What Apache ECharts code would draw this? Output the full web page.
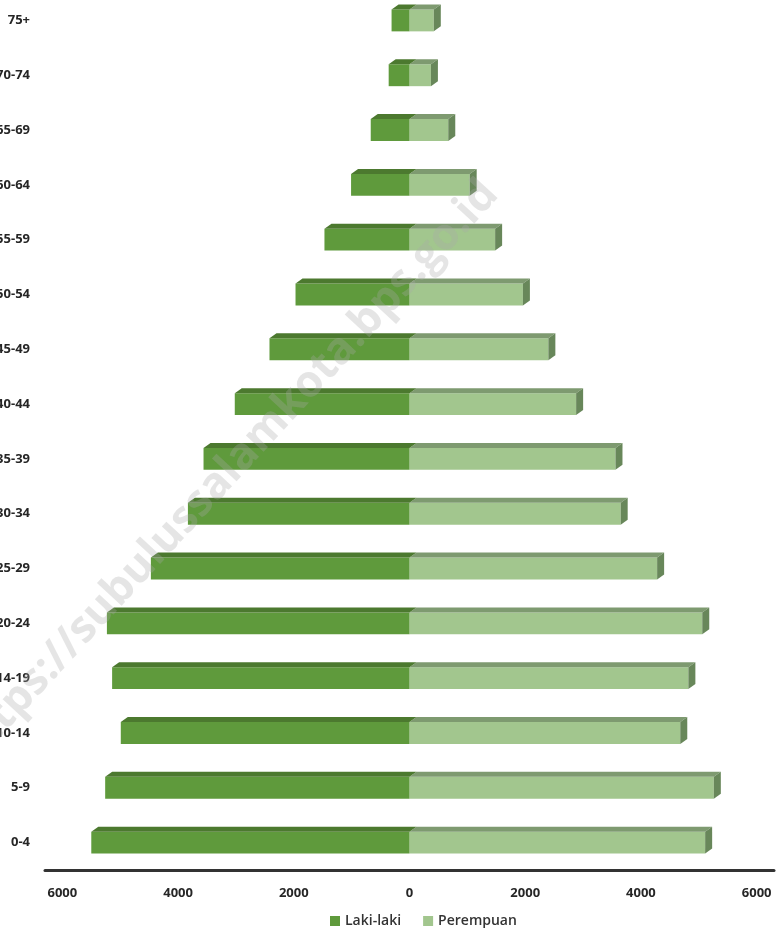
<!DOCTYPE html>
<html>
<head>
<meta charset="utf-8">
<script src="https://cdn.jsdelivr.net/npm/echarts@6/dist/echarts.min.js"></script>
<style>
  html, body { margin: 0; padding: 0; background: #fff; }
  #chart { width: 784px; height: 928px; }
</style>
</head>
<body>
<div id="chart"></div>
<script>
// kelompok umur, dari bawah ke atas
var ageGroups = ['0-4', '5-9', '10-14', '14-19', '20-24', '25-29', '30-34', '35-39',
  '40-44', '45-49', '50-54', '55-59', '60-64', '65-69', '70-74', '75+'];
var male = [5500, 5260, 4990, 5140, 5230, 4470, 3830, 3560, 3020, 2420, 1970, 1470, 1010, 670, 360, 310];
var female = [5110, 5260, 4680, 4820, 5060, 4280, 3650, 3560, 2880, 2400, 1960, 1480, 1040, 670, 370, 420];
var tickValues = [-6000, -4000, -2000, 0, 2000, 4000, 6000];

var chart = echarts.init(document.getElementById('chart'));

// 3d-ish bar: front face, top face, right face
function makeBar(front, top, side, drawSide) {
  return function (params, api) {
    var idx = api.value(1);
    var base = api.coord([0, idx]);
    var end = api.coord([api.value(0), idx]);
    var h = api.size([0, 1])[1] * 0.4;
    var dx = 7, dy = 5;
    var x0 = Math.min(base[0], end[0]);
    var x1 = Math.max(base[0], end[0]);
    var y0 = base[1] - h / 2;
    var y1 = base[1] + h / 2;
    var children = [
      { type: 'rect', shape: { x: x0, y: y0, width: x1 - x0, height: h }, style: { fill: front } },
      { type: 'polygon', shape: { points: [[x0, y0], [x0 + dx, y0 - dy], [x1 + dx, y0 - dy], [x1, y0]] }, style: { fill: top } }
    ];
    if (drawSide) {
      children.push({ type: 'polygon', shape: { points: [[x1, y0], [x1 + dx, y0 - dy], [x1 + dx, y1 - dy], [x1, y1]] }, style: { fill: side } });
    }
    return { type: 'group', children: children };
  };
}

var option = {
  backgroundColor: '#fff',
  textStyle: { fontFamily: 'Open Sans' },
  grid: { left: 45, right: 10, top: -7, bottom: 58, outerBoundsMode: 'none' },
  legend: {
    data: ['Laki-laki', 'Perempuan'],
    top: 909,
    left: 325,
    icon: 'rect',
    itemWidth: 10,
    itemHeight: 10,
    itemGap: 22,
    textStyle: { fontSize: 14, fontWeight: 600, color: '#333' }
  },
  xAxis: {
    type: 'value',
    min: -6300,
    max: 6300,
    axisLine: { show: true, lineStyle: { color: '#333', width: 3 } },
    axisTick: { show: false },
    splitLine: { show: false },
    axisLabel: {
      customValues: tickValues,
      margin: 17,
      fontSize: 13,
      fontWeight: 'bold',
      color: '#262626',
      formatter: function (v) { return String(Math.abs(v)); }
    }
  },
  yAxis: {
    type: 'category',
    data: ageGroups,
    axisLine: { show: false },
    axisTick: { show: false },
    axisLabel: { margin: 15, fontSize: 13, fontWeight: 'bold', color: '#262626' }
  },
  graphic: [{
    type: 'text',
    z: 100,
    x: 227,
    y: 473,
    rotation: 47.3 * Math.PI / 180,
    style: {
      text: 'https://subulussalamkota.bps.go.id',
      fill: 'rgba(170,170,170,0.3)',
      font: 'bold 44px "Open Sans"',
      align: 'center',
      verticalAlign: 'middle'
    }
  }],
  series: [
    {
      name: 'Perempuan',
      type: 'custom',
      itemStyle: { color: '#A2C68E' },
      encode: { x: 0, y: 1 },
      renderItem: makeBar('#A2C68E', '#7E9A70', '#68875A', true),
      data: female.map(function (v, i) { return [v, i]; })
    },
    {
      name: 'Laki-laki',
      type: 'custom',
      itemStyle: { color: '#5F9A3C' },
      encode: { x: 0, y: 1 },
      renderItem: makeBar('#5F9A3C', '#4C792F', '#4C792F', false),
      data: male.map(function (v, i) { return [-v, i]; })
    }
  ]
};

chart.setOption(option);
</script>
</body>
</html>
